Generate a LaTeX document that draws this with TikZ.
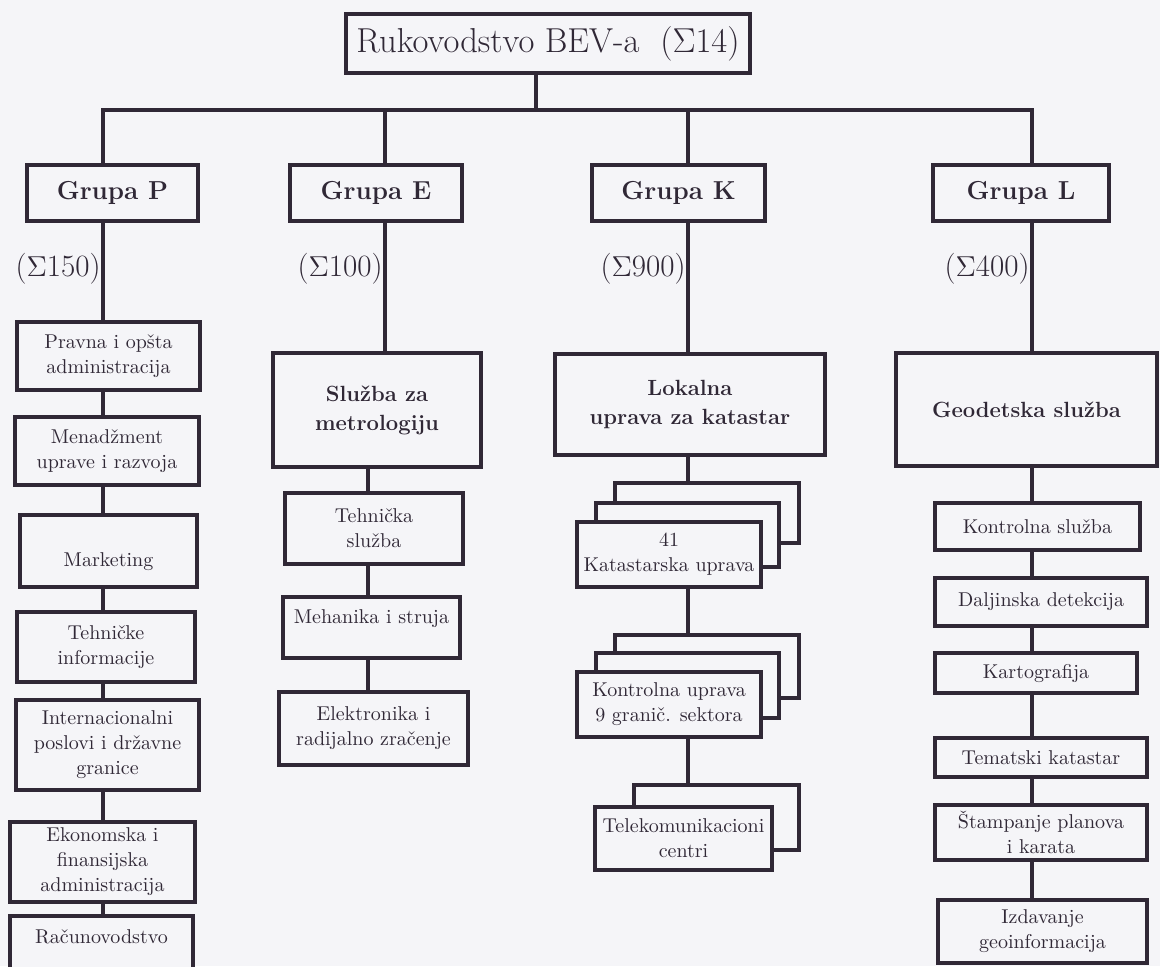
\documentclass[tikz,border=0pt]{standalone}
\definecolor{ink}{RGB}{48,40,54}
\definecolor{paper}{RGB}{245,245,248}

\begin{document}
\begin{tikzpicture}[x=0.5pt, y=-0.5pt,
    unit/.style={draw=ink, line width=1.6pt, fill=paper, text=ink, align=center, inner sep=1pt,
                 font=\fontsize{10}{12.5}\selectfont},
    head/.style={unit, font=\fontsize{11}{14.5}\selectfont\bfseries},
    grp/.style={unit, font=\fontsize{13}{15}\selectfont\bfseries},
    sumlbl/.style={anchor=east, inner xsep=1pt, text=ink, font=\fontsize{15.5}{18}\selectfont},
    box/.style 2 args={minimum width=#1*0.5pt, minimum height=#2*0.5pt},
    link/.style={draw=ink, line width=1.6pt}]
        \fill[paper] (0,0) rectangle (1160,966);
        \useasboundingbox (0,0) rectangle (1160,966);
        % spines
        \coordinate (bus) at (0,110);
        \coordinate (sumrow) at (0,269);
        \coordinate (stem) at (536,0);
        \coordinate (spP) at (103,0);
        \coordinate (spE) at (385,0);
        \coordinate (spEE) at (368,0);
        \coordinate (spK) at (688,0);
        \coordinate (spL) at (1032,0);

        \node[unit, box={404}{59}, font=\fontsize{17.3}{20}\selectfont] (top) at (548,43.5)
            {Rukovodstvo BEV-a\hspace{0.6em}(\ensuremath{\Sigma}14)};

        \node[grp, box={171}{56}] (gP) at (112.5,193) {Grupa P};
        \node[grp, box={172}{56}] (gE) at (376,193) {Grupa E};
        \node[grp, box={173}{56}] (gK) at (678.5,193) {Grupa K};
        \node[grp, box={176}{56}] (gL) at (1021,193) {Grupa L};

        \node[sumlbl] (sP) at (sumrow -| spP) {(\ensuremath{\Sigma}150)};
        \node[sumlbl] (sE) at (sumrow -| spE) {(\ensuremath{\Sigma}100)};
        \node[sumlbl] (sK) at (sumrow -| spK) {(\ensuremath{\Sigma}900)};
        \node[sumlbl] (sL) at (sumrow -| spL) {(\ensuremath{\Sigma}400)};

        % grupa P
        \node[unit, box={183}{68}] (p1) at (108.5,356) {Pravna i opšta\\administracija};
        \node[unit, box={184}{68}] (p2) at (107,451) {Menadžment\\uprave i razvoja};
        \node[unit, box={177}{72}, text height=18pt] (p3) at (108.5,551) {Marketing};
        \node[unit, box={178}{70}] (p4) at (106,647) {Tehničke\\informacije};
        \node[unit, box={183}{90}] (p5) at (107.5,745) {Internacionalni\\poslovi i državne\\granice};
        \node[unit, box={185}{80}] (p6) at (102.5,862) {Ekonomska i\\finansijska\\administracija};
        \node[unit, box={183}{64}, text depth=11pt] (p7) at (101.5,948) {Računovodstvo};

        % grupa E
        \node[head, box={208}{114}] (e1) at (377,410) {Služba za\\metrologiju};
        \node[unit, box={178}{71}] (e2) at (374,528.5) {Tehnička\\služba};
        \node[unit, box={177}{61}, text depth=11.4pt] (e3) at (371.5,627.5) {Mehanika i struja};
        \node[unit, box={189}{73}] (e4) at (373.5,728.5) {Elektronika i\\radijalno zračenje};

        % grupa K
        \node[head, box={270}{101}] (k0) at (690,404.5) {Lokalna\\uprava za katastar};
        \node[unit, box={184}{60}] (k1c) at (707,513) {};
        \node[unit, box={183}{64}] (k1b) at (687.5,535) {};
        \node[unit, box={184}{65}] (k1a) at (669,554.5) {41\\Katastarska uprava};
        \node[unit, box={184}{63}] (k2c) at (707,666.5) {};
        \node[unit, box={183}{65}] (k2b) at (687.5,685.5) {};
        \node[unit, box={184}{65}] (k2a) at (669,704.5) {Kontrolna uprava\\9 granič. sektora};
        \node[unit, box={165}{65}] (k3b) at (716.5,817.5) {};
        \node[unit, box={177}{63}] (k3a) at (683.5,838.5) {Telekomunikacioni\\centri};

        % grupa L
        \node[head, box={261}{113}] (l0) at (1026.5,409.5) {Geodetska služba};
        \node[unit, box={205}{47}] (l1) at (1037.5,526.5) {Kontrolna služba};
        \node[unit, box={212}{48}] (l2) at (1041,602) {Daljinska detekcija};
        \node[unit, box={202}{40}] (l3) at (1036,673) {Kartografija};
        \node[unit, box={212}{39}] (l4) at (1041,757.5) {Tematski katastar};
        \node[unit, box={212}{55}] (l5) at (1041,832.5) {Štampanje planova\\i karata};
        \node[unit, box={209}{63}] (l6) at (1042.5,931.5) {Izdavanje\\geoinformacija};

        \draw[link] (top.south -| stem) -- (bus -| stem);
        \draw[link] (gP.north -| spP) -- (bus -| spP) -- (bus -| spL) -- (gL.north -| spL);
        \draw[link] (gE.north -| spE) -- (bus -| spE) (gK.north -| spK) -- (bus -| spK);
        \draw[link] (gP.south -| spP) -- (p1.north -| spP) (p1.south -| spP) -- (p2.north -| spP)
            (p2.south -| spP) -- (p3.north -| spP) (p3.south -| spP) -- (p4.north -| spP)
            (p4.south -| spP) -- (p5.north -| spP) (p5.south -| spP) -- (p6.north -| spP)
            (p6.south -| spP) -- (p7.north -| spP);
        \draw[link] (gE.south -| spE) -- (e1.north -| spE) (e1.south -| spEE) -- (e2.north -| spEE)
            (e2.south -| spEE) -- (e3.north -| spEE) (e3.south -| spEE) -- (e4.north -| spEE);
        \draw[link] (gK.south -| spK) -- (k0.north -| spK) (k0.south -| spK) -- (k1c.north -| spK)
            (k1a.south -| spK) -- (k2c.north -| spK) (k2a.south -| spK) -- (k3b.north -| spK);
        \draw[link] (gL.south -| spL) -- (l0.north -| spL) (l0.south -| spL) -- (l1.north -| spL)
            (l1.south -| spL) -- (l2.north -| spL) (l2.south -| spL) -- (l3.north -| spL)
            (l3.south -| spL) -- (l4.north -| spL) (l4.south -| spL) -- (l5.north -| spL)
            (l5.south -| spL) -- (l6.north -| spL);
\end{tikzpicture}
\end{document}
